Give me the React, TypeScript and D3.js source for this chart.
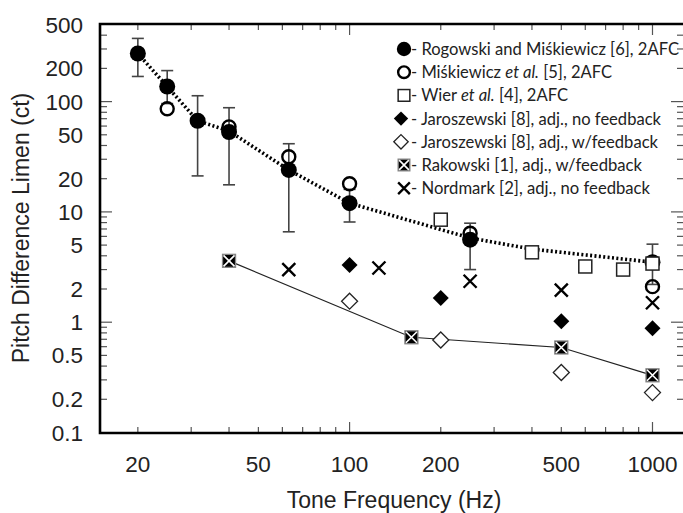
import React from "react";
import * as d3 from "d3";

type Pt = [number, number];

// Rogowski and Miśkiewicz [6], 2AFC: frequency, value, error high, error low
const rogFreq = [20, 25, 31.5, 40, 63, 100, 250, 1000];
const rogVal = [273, 137, 67, 53, 24, 12, 5.6, 3.5];
const rogHi = [374, 191, 113, 88, 41.5, 16, 7.9, 5.1];
const rogLo = [169, 96, 21.2, 17.6, 6.6, 8.1, 3.0, 2.2];

// dotted fit curve
const fitCurve: Pt[] = [[20, 273], [25, 137], [31.5, 67], [40, 54], [63, 24], [100, 12], [250, 5.8], [400, 4.6], [1000, 3.5]];

const miskiewicz: Pt[] = [[25, 86], [40, 59], [63, 31.6], [100, 18], [250, 6.4], [1000, 2.1]];
const wier: Pt[] = [[200, 8.5], [400, 4.3], [600, 3.2], [800, 3.0], [1000, 3.4]];
const jarNoFb: Pt[] = [[100, 3.3], [200, 1.66], [500, 1.02], [1000, 0.88]];
const jarFb: Pt[] = [[100, 1.55], [200, 0.69], [500, 0.35], [1000, 0.23]];
const rakowski: Pt[] = [[40, 3.6], [160, 0.73], [500, 0.59], [1000, 0.33]];
const nordmark: Pt[] = [[63, 3.0], [125, 3.1], [250, 2.35], [500, 1.95], [1000, 1.5]];

const xTickLabels = [20, 50, 100, 200, 500, 1000];
const yTickLabels = [0.1, 0.2, 0.5, 1, 2, 5, 10, 20, 50, 100, 200, 500];

const legendLabels: { pre: string; it?: string; post?: string; sym: string }[] = [
  { pre: "- Rogowski and Miśkiewicz [6], 2AFC", sym: "fc" },
  { pre: "- Miśkiewicz ", it: "et al.", post: " [5], 2AFC", sym: "oc" },
  { pre: "- Wier ", it: "et al.", post: " [4], 2AFC", sym: "sq" },
  { pre: "- Jaroszewski [8], adj., no feedback", sym: "fd" },
  { pre: "- Jaroszewski [8], adj., w/feedback", sym: "od" },
  { pre: "- Rakowski [1], adj., w/feedback", sym: "rk" },
  { pre: "- Nordmark [2], adj., no feedback", sym: "x" },
];
const legendTextWidths = [268, 201, 157, 250, 247, 231, 239];

const W = 683, H = 513;
const L = 100, R = 683, T = 24, B = 433;

const x = d3.scaleLog().domain([15, 1261]).range([L, R]);
const y = d3.scaleLog().domain([0.1, 500]).range([432.5, 24.5]);

function Sym({ t, cx, cy, s = 1 }: { t: string; cx: number; cy: number; s?: number }) {
  switch (t) {
    case "fc":
      return <circle cx={cx} cy={cy} r={8 * s} fill="#000" />;
    case "oc":
      return <circle cx={cx} cy={cy} r={6.5 * s} fill="none" stroke="#000" strokeWidth={2.4} />;
    case "sq": {
      const h = 6.5 * s;
      return <rect x={cx - h} y={cy - h} width={2 * h} height={2 * h} fill="#fff" stroke="#222" strokeWidth={1.5} />;
    }
    case "fd": {
      const h = 8 * s;
      return <path d={`M${cx},${cy - h}L${cx + h},${cy}L${cx},${cy + h}L${cx - h},${cy}Z`} fill="#000" />;
    }
    case "od": {
      const h = 8 * s;
      return <path d={`M${cx},${cy - h}L${cx + h},${cy}L${cx},${cy + h}L${cx - h},${cy}Z`} fill="#fff" stroke="#222" strokeWidth={1.3} />;
    }
    case "rk": {
      const h = 6.5 * s;
      return (
        <g>
          <rect x={cx - h} y={cy - h} width={2 * h} height={2 * h} fill="#000" stroke="#888" strokeWidth={1.3} />
          <path d={`M${cx - h + 1},${cy - h + 1}L${cx + h - 1},${cy + h - 1}M${cx + h - 1},${cy - h + 1}L${cx - h + 1},${cy + h - 1}`} stroke="#fff" strokeWidth={1.6} />
        </g>
      );
    }
    case "x": {
      const h = 6.5 * s;
      return <path d={`M${cx - h},${cy - h}L${cx + h},${cy + h}M${cx + h},${cy - h}L${cx - h},${cy + h}`} stroke="#000" strokeWidth={2.4} />;
    }
  }
  return null;
}

export default function App() {
  const xTicks: { v: number; major: boolean }[] = [];
  [10, 100].forEach((d) => {
    for (let k = 1; k <= 9; k++) {
      const v = k * d;
      if (v >= 20 && v <= 1000) xTicks.push({ v, major: k === 1 });
    }
  });
  xTicks.push({ v: 1000, major: true });

  const yTicks: { v: number; major: boolean }[] = [];
  [0.1, 1, 10, 100].forEach((d) => {
    for (let k = 1; k <= 9; k++) {
      const v = k * d;
      if (v > 0.1 && v < 500) yTicks.push({ v, major: k === 1 });
    }
  });

  const line = d3
    .line<Pt>()
    .x((d) => x(d[0]))
    .y((d) => y(d[1]));

  const tickFont = "'Liberation Sans', Arial, sans-serif";

  return (
    <svg width={W} height={H} style={{ position: "absolute", left: 0, top: 0, background: "#fff" }}>
      <rect x={0} y={0} width={W} height={H} fill="#fff" />
      {/* ticks */}
      <g stroke="#555" strokeWidth={1.2}>
        {xTicks.map((t, i) => (
          <g key={"xt" + i}>
            <line x1={x(t.v)} x2={x(t.v)} y1={B} y2={B - (t.major ? 11 : 6)} />
            <line x1={x(t.v)} x2={x(t.v)} y1={T} y2={T + (t.major ? 11 : 6)} />
          </g>
        ))}
        {yTicks.map((t, i) => (
          <g key={"yt" + i}>
            <line x1={L} x2={L + (t.major ? 12 : 7)} y1={y(t.v)} y2={y(t.v)} />
            <line x1={R} x2={R - (t.major ? 12 : 6)} y1={y(t.v)} y2={y(t.v)} />
          </g>
        ))}
      </g>
      {/* frame */}
      <path d={`M${R},${T}H${L}V${B}H${R}`} fill="none" stroke="#000" strokeWidth={2.6} />

      {/* tick labels */}
      <g fontFamily={tickFont} fontSize={22.5} fill="#222">
        {xTickLabels.map((v) => (
          <text key={"xl" + v} x={x(v)} y={472} textAnchor="middle">
            {v}
          </text>
        ))}
        {yTickLabels.map((v) => (
          <text key={"yl" + v} x={83} y={y(v) + 8} textAnchor="end">
            {v}
          </text>
        ))}
      </g>
      <text x={394} y={508} textAnchor="middle" fontFamily={tickFont} fontSize={23} fill="#222">
        Tone Frequency (Hz)
      </text>
      <text transform="translate(29,228) rotate(-90)" textAnchor="middle" fontFamily={tickFont} fontSize={23} fill="#222">
        Pitch Difference Limen (ct)
      </text>

      {/* error bars */}
      <g stroke="#444" strokeWidth={1.6}>
        {rogFreq.map((f, i) => (
          <g key={"eb" + i}>
            <line x1={x(f)} x2={x(f)} y1={y(rogHi[i])} y2={y(rogLo[i])} />
            <line x1={x(f) - 6} x2={x(f) + 6} y1={y(rogHi[i])} y2={y(rogHi[i])} />
            <line x1={x(f) - 6} x2={x(f) + 6} y1={y(rogLo[i])} y2={y(rogLo[i])} />
          </g>
        ))}
      </g>

      {/* lines */}
      <path d={line(fitCurve) || ""} fill="none" stroke="#000" strokeWidth={3.6} strokeDasharray="2,2.4" />
      <path d={line(rakowski) || ""} fill="none" stroke="#222" strokeWidth={1.2} />

      {/* markers */}
      {rogFreq.map((f, i) => (
        <Sym key={"fc" + i} t="fc" cx={x(f)} cy={y(rogVal[i])} />
      ))}
      {miskiewicz.map((d, i) => (
        <Sym key={"oc" + i} t="oc" cx={x(d[0])} cy={y(d[1])} />
      ))}
      {wier.map((d, i) => (
        <Sym key={"sq" + i} t="sq" cx={x(d[0])} cy={y(d[1])} />
      ))}
      {jarNoFb.map((d, i) => (
        <Sym key={"fd" + i} t="fd" cx={x(d[0])} cy={y(d[1])} />
      ))}
      {jarFb.map((d, i) => (
        <Sym key={"od" + i} t="od" cx={x(d[0])} cy={y(d[1])} />
      ))}
      {rakowski.map((d, i) => (
        <Sym key={"rk" + i} t="rk" cx={x(d[0])} cy={y(d[1])} />
      ))}
      {nordmark.map((d, i) => (
        <Sym key={"x" + i} t="x" cx={x(d[0])} cy={y(d[1])} />
      ))}

      {/* legend */}
      <g fontFamily="Lato, 'Open Sans', sans-serif" fontSize={16.5} fill="#222">
        {legendLabels.map((l, i) => {
          const cy = 49 + i * 23.2;
          return (
            <g key={"lg" + i}>
              <Sym t={l.sym} cx={l.sym === "fd" || l.sym === "od" ? 401 : 404} cy={cy} s={0.9} />
              <text x={411} y={cy + 6} textLength={legendTextWidths[i]} lengthAdjust="spacingAndGlyphs">
                {l.pre}
                {l.it ? <tspan fontStyle="italic">{l.it}</tspan> : null}
                {l.post ? l.post : null}
              </text>
            </g>
          );
        })}
      </g>
    </svg>
  );
}
